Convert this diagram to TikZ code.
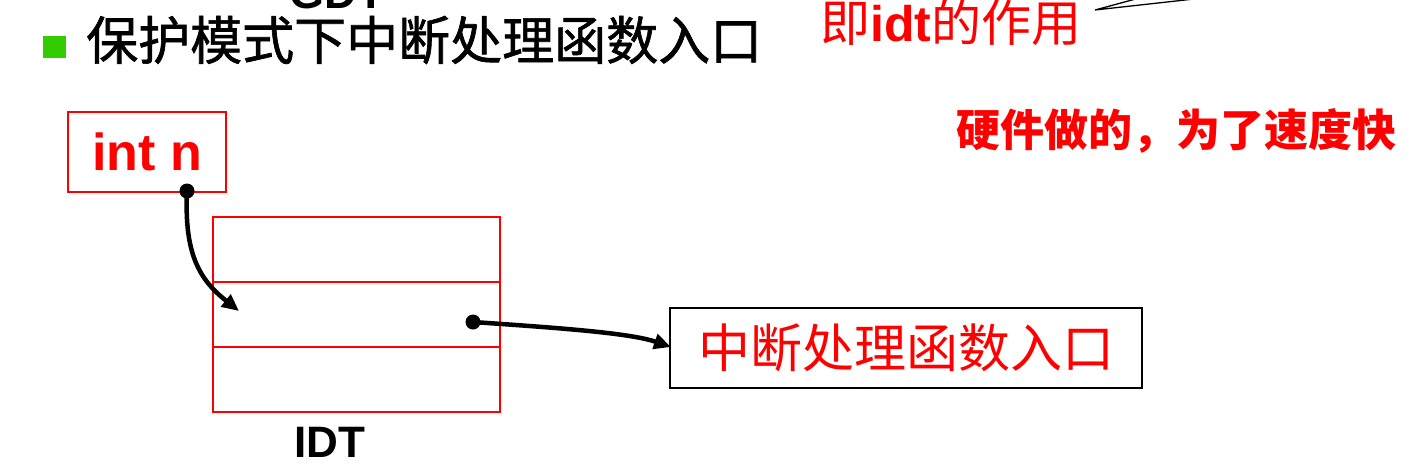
\documentclass[tikz,border=0pt]{standalone}
\usepackage{fontspec}
\setmainfont{Liberation Sans}
\newfontfamily\cjk{Noto Sans CJK SC}
\newfontfamily\cjkheavy{Noto Sans CJK SC}[FakeBold=1.2]
\usetikzlibrary{arrows.meta}
\definecolor{pptred}{RGB}{255,0,0}
\definecolor{pptgreen}{RGB}{51,204,0}
\tikzset{
  redbox/.style={draw=pptred, line width=1.3pt, minimum width=158pt, minimum height=80pt, inner sep=0pt},
  rowbox/.style={draw=pptred, line width=1.3pt, minimum width=287pt, minimum height=65pt, inner sep=0pt},
  blackbox/.style={draw=black, line width=2pt, minimum width=472pt, minimum height=80pt, inner sep=0pt},
  dotnode/.style={circle, fill=black, minimum size=15pt, inner sep=0pt},
  pointer/.style={line width=4.5pt, -{Triangle[length=17pt, width=15pt]}},
  plain/.style={inner sep=0pt}
}
\begin{document}
\begin{tikzpicture}[x=1pt, y=-1pt]
\useasboundingbox (0,0) rectangle (1414,464);
\begin{scope}
\clip (0,0) rectangle (1414,464);
% cut-off heading
\node[plain, anchor=base, font=\fontsize{45}{50}\selectfont\bfseries] (gdt) at (337,8) {GDT};
% callout pointer
\coordinate (tip) at (1095,10);
\coordinate (cA) at (1143,-3);
\coordinate (cB) at (1212,-3);
\draw[line width=1.3pt, line join=miter] (cA) -- (tip) -- (cB);
\end{scope}
% bullet and title
\node[plain, fill=pptgreen, minimum width=23pt, minimum height=22pt] (bullet) at (54.5,47) {};
\node[plain, anchor=west, font=\cjkheavy\fontsize{52}{56}\selectfont] (title) at (86,40) {保护模式下中断处理函数入口};
% red notes
\node[plain, anchor=west, text=pptred, font=\cjk\fontsize{50}{54}\selectfont] (note1) at (820,23) {即{\rmfamily\bfseries idt}的作用};
\node[plain, anchor=west, text=pptred, font=\cjk\bfseries\fontsize{44}{48}\selectfont] (note2) at (956,131) {硬件做的，为了速度快};
% int n
\node[redbox, text=pptred, font=\fontsize{52}{56}\selectfont\bfseries] (intn) at (147,152) {int n};
% IDT table
\node[rowbox] (row1) at (356.5,249.5) {};
\node[rowbox] (row2) at (356.5,314.5) {};
\node[rowbox] (row3) at (356.5,379.5) {};
\node[plain, anchor=base, font=\fontsize{44}{50}\selectfont\bfseries] (idt) at (330,457) {IDT};
% handler box
\node[blackbox, text=pptred, font=\cjk\fontsize{52}{56}\selectfont] (handler) at (906,348) {中断处理函数入口};
% connectors
\node[dotnode] (d1) at (187,191) {};
\node[dotnode] (d2) at (473,322) {};
\coordinate (e1) at (239,311);
\coordinate (e2) at (671,347);
\draw[pointer] (d1.center) .. controls (184,255) and (200,280) .. (e1);
\draw[pointer] (d2.center) .. controls (560,328) and (630,333) .. (e2);
\end{tikzpicture}
\end{document}
